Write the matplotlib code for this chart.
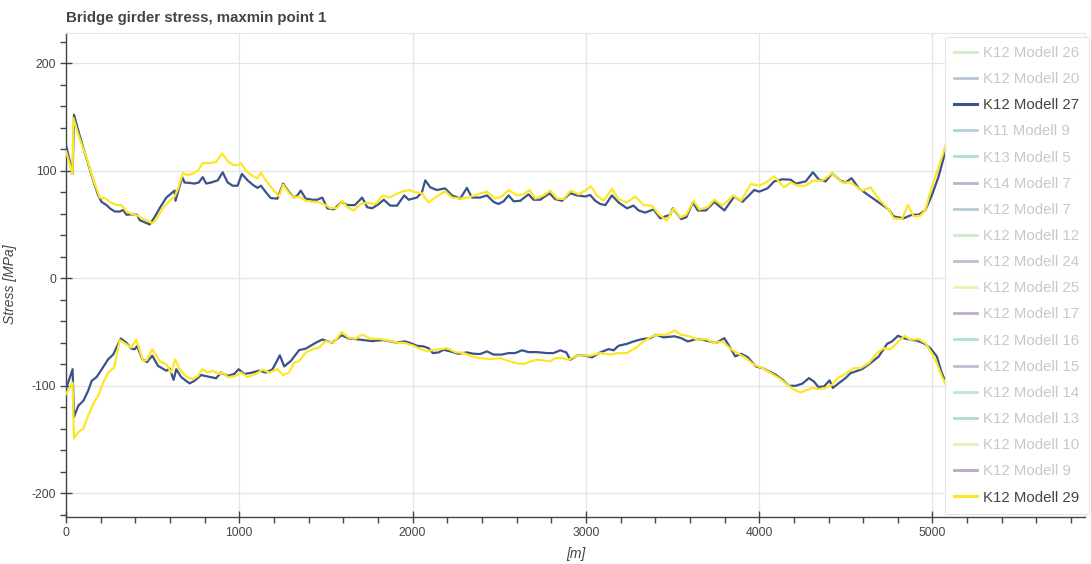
import matplotlib
matplotlib.use("Agg")
import matplotlib.pyplot as plt
from matplotlib.lines import Line2D
from matplotlib.ticker import MultipleLocator

# legend entries, top to bottom (only Modell 27 and 29 are shown in the plot)
models = ["K12 Modell 26", "K12 Modell 20", "K12 Modell 27", "K11 Modell 9",
          "K13 Modell 5", "K14 Modell 7", "K12 Modell 7", "K12 Modell 12",
          "K12 Modell 24", "K12 Modell 25", "K12 Modell 17", "K12 Modell 16",
          "K12 Modell 15", "K12 Modell 14", "K12 Modell 13", "K12 Modell 10",
          "K12 Modell 9", "K12 Modell 29"]
visible = ["K12 Modell 27", "K12 Modell 29"]

# K12 Modell 27 - max
m27_max_x = [0, 38, 46, 80, 119, 157, 186, 205, 234, 253, 282, 310, 330, 349, 377,
             410, 425, 454, 483, 512, 540, 579, 627, 632, 651, 671, 684, 713, 741,
             766, 789, 809, 837, 876, 904, 933, 962, 990, 1015, 1048, 1077, 1105,
             1125, 1153, 1182, 1220, 1253, 1287, 1316, 1335, 1355, 1383, 1422, 1450,
             1479, 1508, 1546, 1590, 1623, 1667, 1709, 1738, 1767, 1805, 1834, 1871,
             1910, 1952, 1977, 2025, 2054, 2073, 2102, 2140, 2169, 2188, 2227, 2275,
             2313, 2342, 2390, 2429, 2467, 2496, 2525, 2554, 2583, 2621, 2669, 2698,
             2737, 2790, 2823, 2862, 2910, 2948, 2996, 3025, 3054, 3083, 3112, 3150,
             3188, 3237, 3275, 3304, 3342, 3390, 3429, 3458, 3487, 3502, 3550, 3579,
             3617, 3646, 3693, 3741, 3799, 3856, 3904, 3971, 4000, 4048, 4086, 4134,
             4182, 4211, 4268, 4310, 4345, 4383, 4421, 4469, 4498, 4533, 4575, 4632,
             4690, 4747, 4776, 4833, 4881, 4920, 4958, 4996, 5034, 5063, 5080]
m27_max_y = [124, 97, 152, 132, 111, 91, 77, 71, 68, 65, 62, 62, 63.5, 59, 59.4,
             59, 54, 52, 50, 57, 65, 75, 81.5, 72, 83, 94, 89, 88.6, 88,
             89, 94, 88, 89, 91, 98.5, 89, 86, 86, 97, 91, 87, 84,
             86, 80, 74.5, 74, 88, 80, 75, 77, 81.5, 74, 73, 73,
             75, 65, 64, 71, 68, 68, 75, 66, 65, 69, 73, 67.5,
             67.5, 77, 73, 75, 80, 91, 84.5, 82, 83, 83.5, 77, 74,
             84, 75, 75, 77, 71, 69, 71.5, 77, 71.5, 72, 78, 73,
             73, 79, 73.6, 72, 79, 77, 76, 77.4, 72, 69, 68, 77,
             70.5, 65, 67.5, 63, 61, 64, 55.7, 57.5, 59, 65, 55, 56.6,
             70.5, 63, 63, 71, 63, 76, 71, 82, 80.5, 83.6, 90, 92,
             91.6, 88, 90, 98.5, 91.6, 90, 97.5, 90.7, 89, 93, 83.6, 77,
             70.5, 64, 57.5, 55.7, 59, 59, 63, 77, 94, 111, 122]

# K12 Modell 27 - min
m27_min_x = [0, 38, 46, 71, 100, 128, 148, 176, 205, 243, 272, 316, 349, 377, 397,
             410, 441, 467, 498, 531, 579, 598, 621, 636, 665, 713, 741, 780, 818,
             866, 895, 933, 971, 996, 1029, 1067, 1115, 1153, 1192, 1234, 1259, 1297,
             1345, 1383, 1441, 1479, 1537, 1590, 1632, 1690, 1767, 1824, 1852, 1900,
             1958, 1987, 2025, 2063, 2092, 2117, 2150, 2179, 2217, 2265, 2313, 2352,
             2390, 2429, 2467, 2515, 2554, 2592, 2631, 2669, 2717, 2775, 2813, 2852,
             2887, 2910, 2948, 2996, 3035, 3083, 3131, 3160, 3188, 3237, 3275, 3323,
             3371, 3406, 3448, 3511, 3550, 3588, 3636, 3674, 3713, 3751, 3799, 3828,
             3862, 3895, 3933, 3981, 4019, 4058, 4096, 4134, 4172, 4211, 4249, 4287,
             4316, 4341, 4374, 4406, 4425, 4460, 4498, 4527, 4556, 4594, 4642, 4690,
             4738, 4766, 4801, 4833, 4872, 4910, 4948, 4987, 5025, 5054, 5080]
m27_min_y = [-103, -84.6, -129, -118.5, -114, -104.6, -95.4, -92, -85, -75.4, -71,
             -56, -60, -65.5, -66, -63, -75.4, -78, -72, -81.5, -86, -84, -94.5,
             -84.6, -92, -97.8, -95.4, -90, -91.4, -93, -87.7, -90.8, -89, -84.6,
             -89, -88, -86, -87.7, -84.6, -71.7, -82, -77, -66.8, -65.5, -60, -57,
             -60, -53, -56, -57, -58.5, -57.5, -58, -59.7, -58.8, -60.3, -62.8,
             -63.4, -65, -69.6, -69, -66.5, -68, -70.2, -69, -70.2, -70.5, -68, -71,
             -71, -69.6, -69.6, -67, -68.7, -68.7, -69.6, -69.6, -67, -69, -75.8,
             -72, -72, -73.6, -69, -65.9, -67, -62.8, -61, -58.8, -56.6, -55.7,
             -52.6, -55, -54, -55.7, -58.8, -56.6, -57.2, -58.8, -60.3, -55.7, -63.4,
             -72.7, -70.2, -73.3, -82, -83.6, -86.7, -89.8, -94.4, -100, -100, -98,
             -92.9, -96, -101.2, -100.6, -95, -102, -97.5, -92.9, -88.2, -86.7, -84.5,
             -79, -72.7, -61, -58.8, -53.5, -55.7, -57.2, -58, -60.3, -65, -72.7,
             -88.2, -98]

# K12 Modell 29 - max
m29_max_x = [0, 38, 42, 80, 119, 157, 195, 224, 253, 291, 320, 349, 377, 416, 445,
             479, 498, 521, 559, 598, 627, 646, 675, 694, 732, 761, 789, 828, 866,
             900, 933, 962, 990, 1010, 1038, 1077, 1105, 1125, 1153, 1192, 1230, 1253,
             1287, 1316, 1345, 1383, 1422, 1460, 1498, 1527, 1565, 1594, 1623, 1661,
             1700, 1738, 1786, 1828, 1862, 1890, 1938, 1977, 2015, 2054, 2092, 2131,
             2188, 2227, 2275, 2323, 2371, 2429, 2477, 2515, 2554, 2602, 2640, 2675,
             2708, 2756, 2794, 2833, 2871, 2913, 2958, 2996, 3029, 3063, 3102, 3150,
             3188, 3237, 3285, 3333, 3381, 3419, 3467, 3506, 3544, 3579, 3621, 3655,
             3703, 3741, 3789, 3850, 3895, 3952, 4000, 4038, 4086, 4144, 4182, 4220,
             4268, 4310, 4364, 4421, 4479, 4527, 4594, 4642, 4699, 4747, 4776, 4824,
             4858, 4891, 4929, 4958, 4987, 5025, 5063, 5080]
m29_max_y = [118, 97, 149, 129, 112, 92, 75, 74.5, 71, 68, 68, 62, 60, 58, 55,
             53, 51, 55, 65, 72, 76, 83, 98, 96, 97, 100, 107, 107, 108,
             116, 109, 105.5, 105, 107, 100, 95, 93, 98, 91, 83, 76, 87,
             79, 75, 76, 72, 71, 70.5, 68, 65, 65.5, 72, 66, 63,
             69, 70, 69, 77, 75, 77, 80.5, 82, 80, 79, 70.5, 75,
             81, 75, 74, 75, 78, 80.5, 74, 76, 82, 77, 78, 82,
             74, 77, 81.5, 74, 73.6, 81.5, 78, 81.5, 85.4, 77, 72, 83,
             73.6, 70.5, 76, 68, 67.5, 59.7, 53.5, 65, 56.6, 59, 72, 64,
             66, 73, 67.5, 77, 72, 87.6, 86, 89, 94.7, 84.5, 89, 86,
             86, 90.7, 90.7, 97.5, 89, 89, 81.4, 84.5, 72, 64, 55.7, 55,
             68, 57.5, 58, 63, 80, 98.5, 117, 126]

# K12 Modell 29 - min
m29_min_x = [0, 38, 46, 71, 100, 128, 157, 186, 215, 243, 278, 310, 349, 377, 406,
             445, 467, 498, 540, 579, 607, 630, 655, 694, 732, 761, 786, 818, 847,
             881, 904, 933, 981, 1010, 1048, 1096, 1134, 1173, 1220, 1253, 1287, 1316,
             1345, 1383, 1422, 1460, 1498, 1546, 1590, 1632, 1671, 1709, 1757, 1805,
             1862, 1910, 1958, 2006, 2044, 2083, 2121, 2160, 2198, 2246, 2294, 2342,
             2390, 2448, 2506, 2563, 2602, 2640, 2679, 2717, 2756, 2794, 2823, 2862,
             2900, 2938, 2987, 3025, 3083, 3140, 3188, 3237, 3285, 3333, 3381, 3419,
             3464, 3511, 3550, 3598, 3646, 3693, 3741, 3789, 3837, 3875, 3923, 3971,
             4019, 4067, 4115, 4163, 4201, 4239, 4278, 4306, 4345, 4383, 4421, 4450,
             4489, 4517, 4546, 4584, 4632, 4680, 4718, 4757, 4795, 4839, 4872, 4920,
             4958, 4996, 5025, 5054, 5080]
m29_min_y = [-107.7, -97, -149, -143, -140, -127.7, -117, -109, -97, -87.7, -83,
             -57.5, -61.5, -64.6, -57, -77, -76, -66, -77, -80, -87.7, -75.4, -84.6,
             -91.4, -94, -91, -84.6, -87.7, -86, -89, -87.7, -92, -90.8, -87.7, -92,
             -89, -85, -87.7, -84.6, -90, -87.7, -78.5, -77, -69, -66, -64.6, -58.5,
             -60, -50, -55.4, -56.3, -52.3, -56.3, -56.3, -58, -59.7, -60.3, -62.8,
             -66, -68, -66.5, -66, -65, -68.7, -69.6, -72.7, -74.3, -75.2, -74.3,
             -77.4, -79, -79.8, -77.4, -75.8, -76.4, -77.4, -74.3, -74.3, -75.8,
             -72.7, -71.8, -72, -69.6, -71, -69.6, -69.6, -65, -58.8, -54, -52.6,
             -52.6, -48.5, -52.6, -54, -57.2, -56.6, -60.3, -58.8, -66, -69.6, -74.3,
             -80.5, -83.6, -88.2, -92.9, -99, -103.7, -106.2, -103.7, -102, -103, -102,
             -99, -92.9, -89.8, -86.7, -83.6, -83.6, -79, -69.6, -65, -66, -60.3,
             -53.5, -57.2, -56.6, -60.3, -69.6, -79, -91.3, -100]

# viridis-like palette per legend entry (style)
colors = ["#7AD151", "#355F8D", "#3B528B", "#25858E", "#1F9F88", "#482475",
          "#2C728E", "#5EC962", "#414487", "#BDDF26", "#471365", "#22A884",
          "#3F4788", "#44BF70", "#21918C", "#A0DA39", "#440154", "#FDE725"]

plt.rcParams["font.family"] = ["Liberation Sans", "DejaVu Sans"]
plt.rcParams["axes.unicode_minus"] = False
txt = "#444444"

fig = plt.figure(figsize=(10.91, 5.64), dpi=100)
ax = fig.add_axes([66 / 1091, 1 - 517 / 564, (1085 - 66) / 1091, (517 - 33) / 564])

c27 = colors[models.index("K12 Modell 27")]
c29 = colors[models.index("K12 Modell 29")]
ax.plot(m27_max_x, m27_max_y, color=c27, lw=1.6, zorder=3)
ax.plot(m27_min_x, m27_min_y, color=c27, lw=1.6, zorder=3)
ax.plot(m29_max_x, m29_max_y, color=c29, lw=1.6, zorder=4)
ax.plot(m29_min_x, m29_min_y, color=c29, lw=1.6, zorder=4)

ax.set_xlim(0, 5880)
ax.set_ylim(-222, 228)
ax.xaxis.set_major_locator(MultipleLocator(1000))
ax.xaxis.set_minor_locator(MultipleLocator(200))
ax.yaxis.set_major_locator(MultipleLocator(100))
ax.yaxis.set_minor_locator(MultipleLocator(20))
ax.grid(True, which="major", color="#e5e5e5", lw=0.9)
ax.set_axisbelow(True)

for s in ["top", "right"]:
    ax.spines[s].set_color("#e5e5e5")
    ax.spines[s].set_linewidth(0.8)
for s in ["left", "bottom"]:
    ax.spines[s].set_color(txt)
    ax.spines[s].set_linewidth(1.0)
ax.tick_params(which="major", direction="inout", length=8, width=1, color=txt,
               labelcolor=txt, labelsize=8.8, pad=3)
ax.tick_params(which="minor", direction="out", length=4, width=1, color=txt)

ax.set_xlabel("[m]", style="italic", color=txt, fontsize=10, labelpad=6)
ax.set_ylabel("Stress [MPa]", style="italic", color=txt, fontsize=10)
ax.yaxis.set_label_coords(-(66 - 17) / 1019, 0.48)
fig.text(66 / 1091, 1 - 18 / 564, "Bridge girder stress, maxmin point 1",
         fontsize=10.8, fontweight="bold", color=txt, va="center", ha="left")

handles = []
for name, col in zip(models, colors):
    on = name in visible
    handles.append(Line2D([], [], color=col, lw=2.2 if on else 2.0,
                          alpha=1.0 if on else 0.35))
leg = ax.legend(handles, models, loc="upper left",
                bbox_to_anchor=(945 / 1091, 1 - 37 / 564),
                bbox_transform=fig.transFigure, borderaxespad=0,
                fontsize=10.8, handlelength=1.5, handletextpad=0.45,
                labelspacing=0.81, borderpad=0.6, frameon=True,
                fancybox=False, framealpha=0.95, edgecolor="#e5e5e5",
                facecolor="white")
leg.get_frame().set_linewidth(0.8)
for t, name in zip(leg.get_texts(), models):
    t.set_color(txt if name in visible else "#c8c8c8")
leg.set_zorder(10)

fig.savefig("out.png", dpi=100)
